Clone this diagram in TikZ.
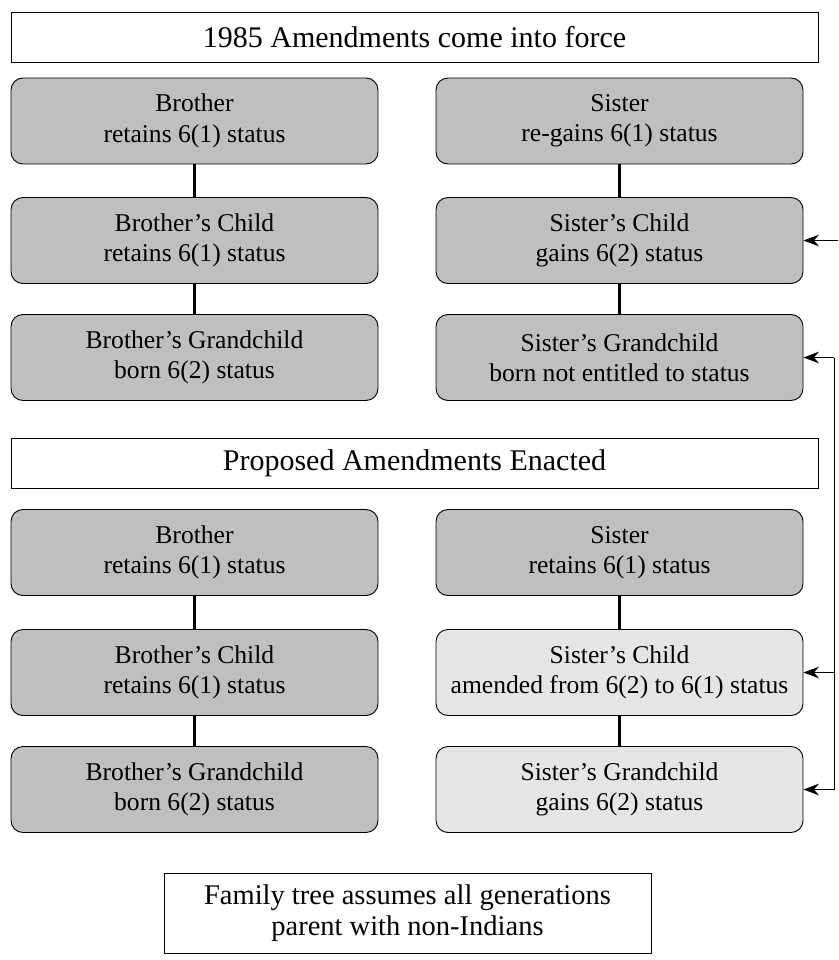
\documentclass[tikz,border=0pt]{standalone}
\usepackage{fontspec}
\setmainfont{Liberation Serif}
\usetikzlibrary{arrows.meta}
\begin{document}
\begin{tikzpicture}[x=1pt,y=-1pt,
  every node/.style={align=center, inner sep=0pt},
  titlebox/.style={draw, line width=0.9pt, fill=white, minimum width=807pt, minimum height=50pt, font=\fontsize{30}{31}\selectfont},
  darkbox/.style={draw, line width=0.9pt, fill=black!25, rounded corners=12pt, minimum width=367pt, minimum height=86pt, font=\fontsize{25.6}{30.5}\selectfont},
  lightbox/.style={darkbox, fill=black!10},
  notebox/.style={draw, line width=0.9pt, minimum width=487pt, minimum height=80pt, font=\fontsize{28.5}{31}\selectfont},
  link/.style={line width=2.4pt},
  arr/.style={line width=0.9pt, -{Stealth[scale=2.2]}}]
\useasboundingbox (0,0) rectangle (838,960);
\node[titlebox] (t1) at (414.5,37) {1985 Amendments come into force};
\node[darkbox] (b1) at (194.5,121) {Brother\\retains 6(1) status};
\node[darkbox] (b2) at (194.5,240.5) {Brother's Child\\retains 6(1) status};
\node[darkbox] (b3) at (194.5,357.5) {Brother's Grandchild\\born 6(2) status};
\node[darkbox] (s1) at (619.5,121) {Sister\\re-gains 6(1) status};
\node[darkbox] (s2) at (619.5,240.5) {Sister's Child\\gains 6(2) status};
\node[darkbox] (s3) at (619.5,357.5) {Sister's Grandchild\\born not entitled to status};
\node[titlebox] (t2) at (414.5,463) {Proposed Amendments Enacted};
\node[darkbox] (b4) at (194.5,552.5) {Brother\\retains 6(1) status};
\node[darkbox] (b5) at (194.5,672.5) {Brother's Child\\retains 6(1) status};
\node[darkbox] (b6) at (194.5,789.5) {Brother's Grandchild\\born 6(2) status};
\node[darkbox] (s4) at (619.5,552.5) {Sister\\retains 6(1) status};
\node[lightbox] (s5) at (619.5,672.5) {Sister's Child\\amended from 6(2) to 6(1) status};
\node[lightbox] (s6) at (619.5,789.5) {Sister's Grandchild\\gains 6(2) status};
\node[notebox] (note) at (407.5,913) {Family tree assumes all generations\\parent with non-Indians};
\draw[link] (b1) -- (b2); \draw[link] (b2) -- (b3);
\draw[link] (s1) -- (s2); \draw[link] (s2) -- (s3);
\draw[link] (b4) -- (b5); \draw[link] (b5) -- (b6);
\draw[link] (s4) -- (s5); \draw[link] (s5) -- (s6);
\coordinate (e1) at (838,240.5);
\coordinate (top) at (834,357.5);
\coordinate (bot) at (834,789.5);
\coordinate (mid) at (834,672.5);
\draw[line width=0.9pt] (top) -- (bot);
\draw[arr] (e1) to (s2.east);
\draw[arr] (top) to (s3.east);
\draw[arr] (mid) to (s5.east);
\draw[arr] (bot) to (s6.east);
\end{tikzpicture}
\end{document}
